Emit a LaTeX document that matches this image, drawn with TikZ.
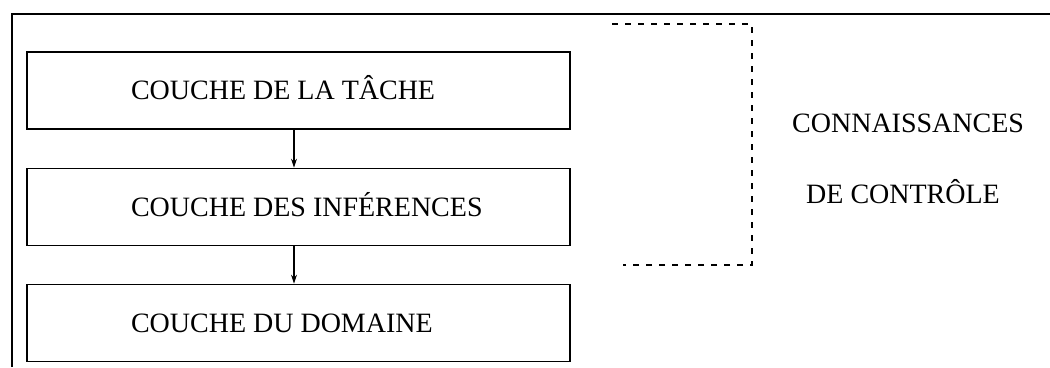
\documentclass[tikz,border=0pt]{standalone}
\usepackage{fontspec}
\setmainfont{Liberation Serif}
\usetikzlibrary{arrows.meta}
\newcommand{\layertext}[1]{\makebox[335pt][l]{#1}}
\begin{document}
\begin{tikzpicture}[x=1pt,y=1pt,
  frame/.style={line width=1.7pt},
  layer/.style={draw,line width=1.7pt,minimum width=543pt,minimum height=77pt,
    inner xsep=104pt,text height=18.5pt,text depth=0pt,
    font=\fontsize{28}{32}\selectfont},
  ctrl/.style={anchor=base west,inner sep=0pt,font=\fontsize{28}{32}\selectfont},
  dashline/.style={line width=1.6pt,dash pattern=on 6pt off 7pt},
  arr/.style={line width=1.1pt,-{Stealth[length=9pt,width=6pt]}}]
\useasboundingbox (0,0) rectangle (1050,-367);
% outer frame
\coordinate (fl) at (12,-367);
\coordinate (ftl) at (12,-14);
\coordinate (ftr) at (1050,-14);
\draw[frame] (fl) -- (ftl) -- (ftr);
% layers
\node[layer] (b1) at (298.5,-90.5) {\layertext{COUCHE DE LA TÂCHE}};
\node[layer] (b2) at (298.5,-207) {\layertext{COUCHE DES INFÉRENCES}};
\node[layer] (b3) at (298.5,-323) {\layertext{COUCHE DU DOMAINE}};
\draw[arr] ([xshift=-4.5pt]b1.south) -- ([xshift=-4.5pt]b2.north);
\draw[arr] ([xshift=-4.5pt]b2.south) -- ([xshift=-4.5pt]b3.north);
% control knowledge bracket
\coordinate (d1) at (612,-24);
\coordinate (d2) at (752,-24);
\coordinate (d3) at (752,-265);
\coordinate (d4) at (623,-265);
\draw[dashline] (d1) -- (d2) -- (d3) -- (d4);
\node[ctrl] (c1) at (792,-132) {CONNAISSANCES};
\node[ctrl] (c2) at (806,-203) {DE CONTRÔLE};
\end{tikzpicture}
\end{document}
